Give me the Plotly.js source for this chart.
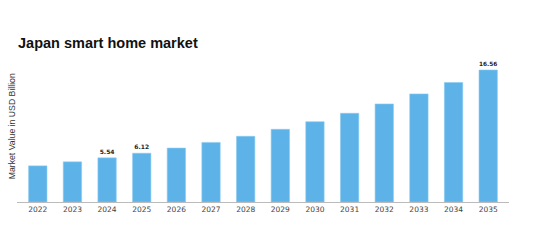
<!DOCTYPE html>
<html>
<head>
<meta charset="utf-8">
<script src="https://cdn.plot.ly/plotly-3.0.1.min.js"></script>
<style>html,body{margin:0;padding:0;background:#fff;}#chart{width:538px;height:252px;}</style>
</head>
<body>
<div id="chart"></div>
<script>
const years = ["2022","2023","2024","2025","2026","2027","2028","2029","2030","2031","2032","2033","2034","2035"];
const values = [4.53, 5.04, 5.54, 6.12, 6.76, 7.48, 8.24, 9.12, 10.08, 11.13, 12.30, 13.56, 14.99, 16.56];
const labelYears = ["2024","2025","2035"];
const yTitle = "Market Value in USD Billion";

const labels = years.map((y, i) => labelYears.includes(y) ? values[i].toFixed(2) : "");

const trace = {
  type: "bar",
  x: years,
  y: values,
  text: labels,
  textposition: "outside",
  cliponaxis: false,
  textfont: {family: "DejaVu Sans", size: 6, color: "#222", weight: "bold"},
  marker: {color: "#5DB3E8", line: {color: "#8ccbf0", width: 0.6}},
  width: 0.53,
  hoverinfo: "skip"
};

const layout = {
  width: 538,
  height: 252,
  margin: {l: 17, r: 29, t: 50, b: 50},
  paper_bgcolor: "#fff",
  plot_bgcolor: "#fff",
  showlegend: false,
  title: {
    text: "<b>Japan smart home market</b>",
    x: 0, xref: "paper", xanchor: "left",
    y: 1 - 43/252, yref: "container", yanchor: "middle",
    pad: {l: 1},
    font: {family: "Liberation Sans, Arial, sans-serif", size: 14.5, color: "#111"}
  },
  xaxis: {
    type: "category",
    range: [-0.6, 13.6],
    showline: true,
    linecolor: "#bbbbbb",
    linewidth: 1,
    ticks: "",
    showgrid: false,
    zeroline: false,
    tickfont: {family: "DejaVu Sans", size: 7.5, color: "#444"},
    ticklabelstandoff: 0
  },
  yaxis: {
    range: [0, 19.07],
    showticklabels: false,
    showgrid: false,
    zeroline: false,
    showline: false,
    ticks: ""
  },
  annotations: [{
    text: yTitle,
    xref: "paper", yref: "paper",
    x: -0.0096, y: 0.5,
    xanchor: "center", yanchor: "middle",
    textangle: -90,
    showarrow: false,
    font: {family: "Liberation Sans, Arial, sans-serif", size: 8.7, color: "#333"}
  }]
};

Plotly.newPlot("chart", [trace], layout, {displayModeBar: false, staticPlot: true});
</script>
</body>
</html>
